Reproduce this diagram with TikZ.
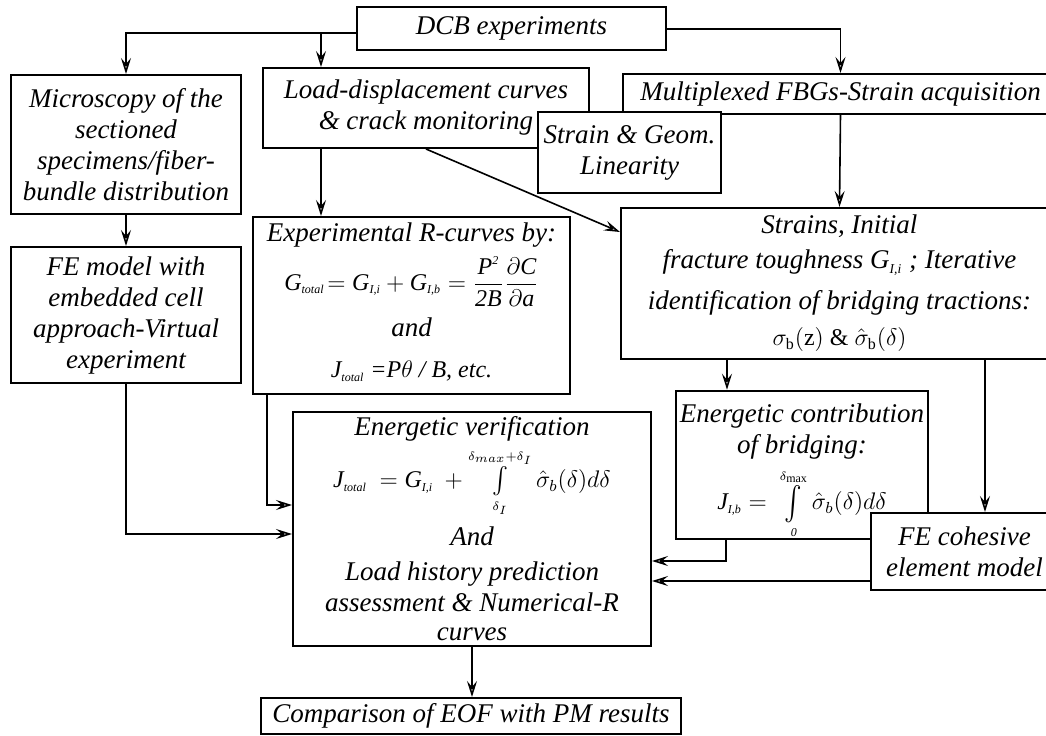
\documentclass[tikz,border=0pt]{standalone}
\usepackage{amsmath}
\usepackage{fontspec}
\setmainfont{Liberation Serif}
\usetikzlibrary{arrows.meta,calc}
\newcommand\ti[1]{\textit{#1}}
\newcommand\sst[1]{{\scriptscriptstyle\ti{#1}}}
\newcommand\bigint{\mathop{\vcenter{\hbox{\scalebox{1.1}[1.4]{$\textstyle\int$}}}}}
\newcommand\midint{\mathop{\vcenter{\hbox{\scalebox{1}[1.1]{$\textstyle\int$}}}}}
\begin{document}
\begin{tikzpicture}[x=0.5pt,y=-0.5pt,
  box/.style={draw,line width=1pt,fill=white,align=center,inner sep=0pt,
    font=\itshape\fontsize{13.5}{15.5}\selectfont},
  conn/.style={line width=0.8pt,-{Stealth[open,length=8pt,width=5pt,inset=3pt]}}]
\useasboundingbox (0,0) rectangle (1046,735);
% boxes
\node[box,minimum width=154.5pt,minimum height=21.5pt] (dcb) at (511.5,28.5) {DCB experiments};
\node[box,minimum width=115pt,minimum height=69.5pt] (micro) at (126,144.5)
  {Microscopy of the\\ sectioned\\ specimens/fiber-\\ bundle distribution};
\node[box,minimum width=163pt,minimum height=40pt] (load) at (426,108)
  {Load-displacement curves\\ \& crack monitoring};
\node[box,minimum width=217.5pt,minimum height=20pt] (multi) at (840.5,94)
  {Multiplexed FBGs-Strain acquisition};
\node[box,minimum width=115pt,minimum height=68pt] (fe) at (126,315)
  {FE model with\\ embedded cell\\ approach-Virtual\\ experiment};
\node[box,minimum width=158.5pt,minimum height=88.5pt] (rc) at (411.5,305.5)
  {Experimental R-curves by:\\[3.5pt]
   {\fontsize{12}{14}\selectfont$\ti{G}_{\sst{total}}\!= \ti{G}_{\sst{I,i}} + \ti{G}_{\sst{I,b}} =\dfrac{\ti{P}^{\sst{2}}}{\ti{2B}}\dfrac{\partial \ti{C}}{\partial \ti{a}}$}\\[4.5pt]
   and\\[5pt]
   {\fontsize{12}{14}\selectfont$\ti{J}_{\sst{total}}$ =P$\theta$ / B, etc.\rule[-5pt]{0pt}{5pt}}};
\node[box,minimum width=218.5pt,minimum height=75.5pt] (st) at (839.5,283.5)
  {Strains, Initial\\[2pt]
   fracture toughness $\ti{G}_{\sst{I,i}}$ ; Iterative\\[5pt]
   identification of bridging tractions:\\[2.5pt]
   {\upshape\fontsize{12}{14}\selectfont$\sigma_{\mathrm{b}}(\mathrm{z})$ \& $\hat{\sigma}_{\mathrm{b}}(\delta)$}};
\node[box,minimum width=179pt,minimum height=117pt] (ev) at (472,529)
  {Energetic verification\\[3pt]
   {\fontsize{12}{14}\selectfont$\ti{J}_{\sst{total}}\ = \ti{G}_{\sst{I,i}}\ + \midint\limits_{\scriptscriptstyle\delta_{I}}^{\scriptscriptstyle\delta_{max}+\delta_{I}} \hat{\sigma}_{b}(\delta)d\delta$}\\[4pt]
   And\\[2pt]
   Load history prediction\\
   assessment \& Numerical-R\\[-1pt]
   curves};
\node[box,minimum width=126pt,minimum height=71pt] (ec) at (802,465)
  {\rule{0pt}{16pt}Energetic contribution\\
   of bridging:\\[4pt]
   {\fontsize{12}{14}\selectfont$\ti{J}_{\sst{I,b}} = \ \bigint\limits_{\scriptscriptstyle\ti{0}}^{\scriptscriptstyle\delta_{\mathrm{max}}} \hat{\sigma}_{b}(\delta)d\delta$}};
\node[box,minimum width=93.5pt,minimum height=38.5pt] (fc) at (964.5,551.5)
  {FE cohesive\\ element model};
\node[box,minimum width=210pt,minimum height=18pt] (cmp) at (471,716)
  {Comparison of EOF with PM results};
\node[box,minimum width=91.5pt,minimum height=40.5pt] (sg) at (629.5,152.5)
  {Strain \& Geom.\\ Linearity};
% connectors
\coordinate (j0) at (0,29);
\coordinate (j1) at (321,33);
\coordinate (j2) at (727,0);
\coordinate (j3) at (985,0);
\coordinate (j4) at (267,505);
\coordinate (j5) at (126,534);
\coordinate (j6) at (726,561);
\coordinate (j7) at (0,581);
\draw[conn] (dcb.west |- j1) -| (micro.north);
\draw[conn] (j1) -- (j1 |- load.north);
\draw[conn] (dcb.east |- j0) -| (multi.north);
\draw[conn] (j1 |- load.south) -- (j1 |- rc.north);
\draw[conn] (multi.south) -- (st.north);
\draw[conn] (load.south) -- ($(st.north west)+(0,25)$);
\draw[conn] (micro.south) -- (fe.north);
\draw[conn] (j2 |- st.south) -- (j2 |- ec.north);
\draw[conn] (j3 |- st.south) -- (j3 |- fc.north);
\draw[conn] (j4 |- rc.south) -- (j4) -- (ev.west |- j4);
\draw[conn] (fe.south) |- (ev.west |- j5);
\draw[conn] (j6 |- ec.south) |- (ev.east |- j6);
\draw[conn] (fc.west |- j7) -- (ev.east |- j7);
\draw[conn] (ev.south) -- (ev.south |- cmp.north);
\end{tikzpicture}
\end{document}
